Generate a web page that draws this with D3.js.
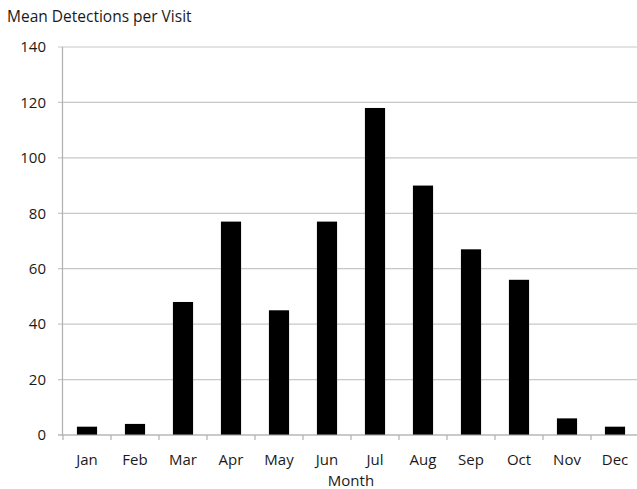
<!DOCTYPE html>
<html><head><meta charset="utf-8">
<script src="https://cdn.jsdelivr.net/npm/d3@7"></script>
<style>body{margin:0;background:#fff}text{font-family:"Open Sans",sans-serif;fill:#1a1a1a}</style>
</head><body><svg id="c" width="637" height="489"></svg>
<script>
const months = ["Jan","Feb","Mar","Apr","May","Jun","Jul","Aug","Sep","Oct","Nov","Dec"];
const values = [3,4,48,77,45,77,118,90,67,56,6,3];
const yTicks = [0,20,40,60,80,100,120,140];

const svg = d3.select("#c");
const m = {l:63};
const W = 637;
const x = d3.scaleBand().domain(months).range([m.l, m.l+48*12]).paddingInner(0.58).paddingOuter(0.29);
const y = d3.scaleLinear().domain([0,140]).range([435, 47]);

svg.append("g").selectAll("line").data(yTicks).join("line")
  .attr("x1", m.l-5).attr("x2", W).attr("y1", d=>y(d)).attr("y2", d=>y(d))
  .attr("stroke", "#c8c8c8").attr("stroke-width", 1.2);
svg.append("g").selectAll("text").data(yTicks).join("text")
  .attr("x", 46).attr("y", d=>y(d)).attr("dy","0.35em").attr("text-anchor","end")
  .attr("font-size", 15).text(d=>d);

svg.append("line").attr("x1", m.l-0.5).attr("x2", m.l-0.5).attr("y1", y(140)).attr("y2", y(0))
  .attr("stroke","#b0b0b0").attr("stroke-width",1.2);

svg.append("g").selectAll("rect").data(values).join("rect")
  .attr("x", (d,i)=>x(months[i])).attr("width", x.bandwidth())
  .attr("y", d=>y(d)).attr("height", d=>y(0)-y(d))
  .attr("fill","#000");

svg.append("line").attr("x1", m.l-5).attr("x2", W).attr("y1", y(0)).attr("y2", y(0))
  .attr("stroke","#b0b0b0").attr("stroke-width",1.2);
svg.append("g").selectAll("line").data(d3.range(13)).join("line")
  .attr("x1", d=>m.l + d*x.step()).attr("x2", d=>m.l + d*x.step())
  .attr("y1", y(0)).attr("y2", y(0)+5).attr("stroke","#b0b0b0").attr("stroke-width",1.2);
svg.append("g").selectAll("text").data(months).join("text")
  .attr("x", d=>x(d)+x.bandwidth()/2).attr("y", 460).attr("dy","0.35em")
  .attr("text-anchor","middle").attr("font-size",15).text(d=>d);

svg.append("text").attr("x", 351).attr("y", 481).attr("dy","0.35em").attr("text-anchor","middle")
  .attr("font-size",15).text("Month");
svg.append("text").attr("x", 7).attr("y", 17).attr("dy","0.35em")
  .attr("font-size",15.5).text("Mean Detections per Visit");
</script></body></html>
